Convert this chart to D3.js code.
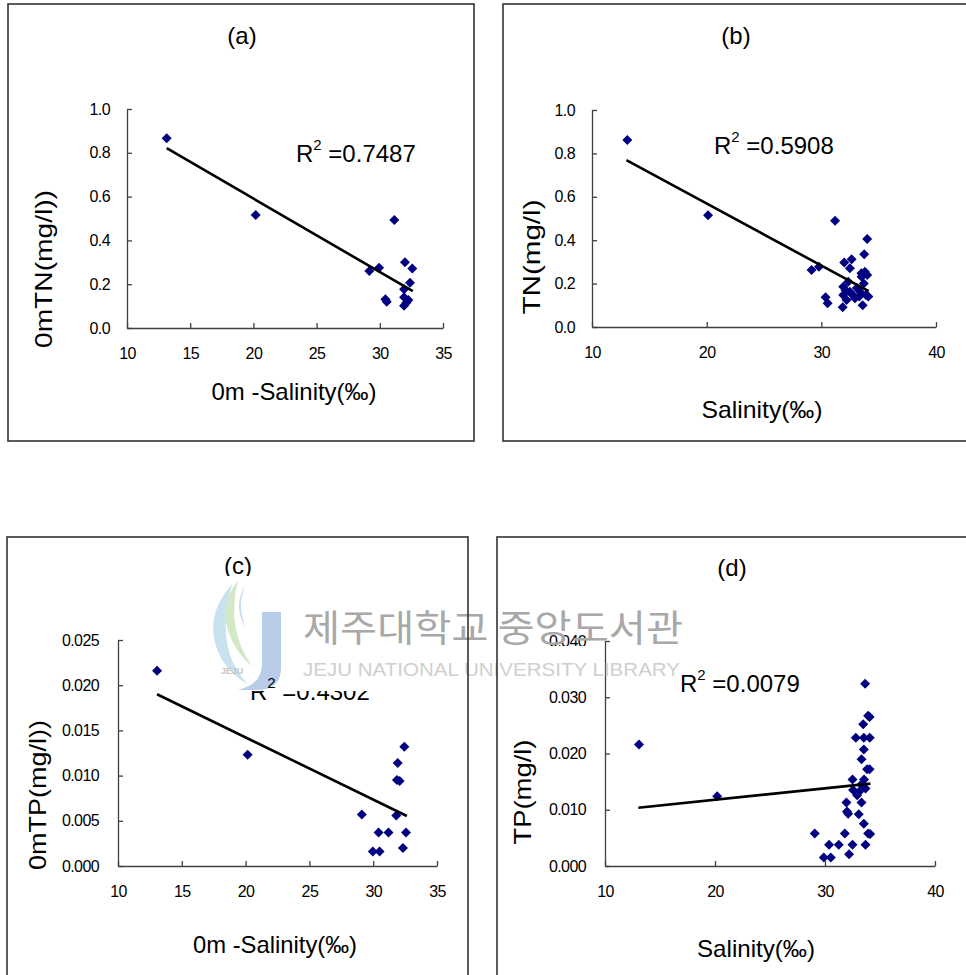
<!DOCTYPE html>
<html lang="en">
<head>
<meta charset="UTF-8">
<title>Salinity vs TN / TP</title>
<script src="https://cdn.jsdelivr.net/npm/d3@7"></script>
<style>
  body { margin: 0; background: #fff; }
  svg { display: block; font-family: "Liberation Sans", Arial, sans-serif; }
</style>
</head>
<body>
<script>
// ---- data ----
// (a) surface salinity vs surface TN
var salA = [13.14, 20.18, 31.15, 29.17, 29.94, 31.99, 32.57, 32.39, 31.92, 30.44, 30.55, 31.92, 32.26, 31.92, 32.1]
var tnA  = [0.867, 0.516, 0.493, 0.26, 0.275, 0.30, 0.272, 0.207, 0.177, 0.131, 0.12, 0.14, 0.128, 0.102, 0.115]
var trendAX = [13.14, 32.61], trendAY = [0.821, 0.168]

// (b) salinity vs TN (all depths)
var salB = [13.08, 20.12, 31.2, 34.0, 33.74, 29.15, 29.79, 32.0, 32.64, 32.49, 33.8, 33.51, 34.0, 33.5, 32.35, 31.91,
            31.91, 32.49, 32.93, 33.37, 33.89, 34.1, 30.37, 30.55, 31.86, 33.6, 32.2, 33.1, 33.7, 32.7, 33.3, 32.1]
var tnB  = [0.862, 0.515, 0.49, 0.405, 0.335, 0.263, 0.278, 0.297, 0.312, 0.271, 0.255, 0.232, 0.24, 0.248, 0.209, 0.186,
            0.148, 0.163, 0.132, 0.163, 0.148, 0.14, 0.137, 0.109, 0.091, 0.1, 0.125, 0.18, 0.2, 0.15, 0.14, 0.17]
var trendBX = [13.0, 34.13], trendBY = [0.769, 0.165]

// (c) surface salinity vs surface TP
var salC = [13.06, 20.16, 29.11, 31.81, 32.44, 31.92, 31.86, 32.07, 30.42, 31.2, 32.57, 29.97, 30.5, 32.33]
var tpC  = [0.0216, 0.0123, 0.0057, 0.0056, 0.0132, 0.0114, 0.0095, 0.0094, 0.0037, 0.0037, 0.0037, 0.0016, 0.0016, 0.0020]
var trendCX = [13.06, 32.64], trendCY = [0.0190, 0.00553]

// (d) salinity vs TP (all depths)
var salD = [13.09, 20.2, 33.65, 33.92, 34.05, 33.47, 32.8, 33.53, 34.07, 33.53, 33.32, 33.83, 34.05, 32.5, 33.55, 32.55,
            33.68, 32.92, 33.32, 31.95, 32.0, 32.1, 33.07, 33.53, 33.92, 34.1, 29.07, 31.8, 30.37, 31.25, 32.5, 33.68,
            29.89, 30.53, 32.19, 33.1, 33.3]
var tpD  = [0.0216, 0.0124, 0.0324, 0.0267, 0.0265, 0.0252, 0.0228, 0.0228, 0.0228, 0.0207, 0.019, 0.0172, 0.0172, 0.0154, 0.0154, 0.0135,
            0.0138, 0.0126, 0.0113, 0.0113, 0.0097, 0.0093, 0.0092, 0.0075, 0.0058, 0.0057, 0.0058, 0.0058, 0.0038, 0.0038, 0.0038, 0.0038,
            0.0015, 0.0015, 0.0021, 0.0132, 0.0145]
var trendDX = [13.03, 34.13], trendDY = [0.01037, 0.01464]

// ticks
var xTicks35 = [10, 15, 20, 25, 30, 35]
var xTicks40 = [10, 20, 30, 40]
var yTicksTN = [0, 0.2, 0.4, 0.6, 0.8, 1.0]
var yTicksTPc = [0, 0.005, 0.010, 0.015, 0.020, 0.025]
var yTicksTPd = [0, 0.010, 0.020, 0.030, 0.040]

var r2Values = ['0.7487', '0.5908', '0.4302', '0.0079']

// ---- layout ----
var width = 966, height = 975
var svg = d3.select('body').append('svg').attr('width', width).attr('height', height)

var panels = [
  {title: '(a)', tx: 242, ty: 35, box: [8, 4, 466, 437], p: {x0: 127, x1: 443, y0: 109, y1: 328},
   xDom: [10, 35], xTicks: xTicks35, yDom: [0, 1], yTicks: yTicksTN, fmt: '.1f', yPad: 17,
   xs: salA, ys: tnA, tx2: trendAX, ty2: trendAY, r2: r2Values[0], r2x: 296, r2y: 162,
   xTitle: '0m -Salinity(‰)', xtX: 294, xtY: 400, xtLen: 165,
   yTitle: '0mTN(mg/l))', ytX: 43, ytY: 269, ytLen: 158},
  {title: '(b)', tx: 736, ty: 35, box: [503, 4, 480, 437], p: {x0: 592, x1: 936, y0: 110, y1: 327},
   xDom: [10, 40], xTicks: xTicks40, yDom: [0, 1], yTicks: yTicksTN, fmt: '.1f', yPad: 17,
   xs: salB, ys: tnB, tx2: trendBX, ty2: trendBY, r2: r2Values[1], r2x: 714, r2y: 154,
   xTitle: 'Salinity(‰)', xtX: 762, xtY: 418, xtLen: 121,
   yTitle: 'TN(mg/l)', ytX: 531, ytY: 257, ytLen: 115},
  {title: '(c)', tx: 238, ty: 565, box: [7, 537, 461, 480], p: {x0: 118, x1: 437, y0: 640, y1: 866},
   xDom: [10, 35], xTicks: xTicks35, yDom: [0, 0.025], yTicks: yTicksTPc, fmt: '.3f', yPad: 19,
   xs: salC, ys: tpC, tx2: trendCX, ty2: trendCY, r2: r2Values[2], r2x: 250, r2y: 700, covered: true,
   xTitle: '0m -Salinity(‰)', xtX: 275, xtY: 953, xtLen: 164,
   yTitle: '0mTP(mg/l))', ytX: 37, ytY: 795, ytLen: 150},
  {title: '(d)', tx: 732, ty: 567, box: [497, 537, 480, 480], p: {x0: 605, x1: 935, y0: 641, y1: 866},
   xDom: [10, 40], xTicks: xTicks40, yDom: [0, 0.04], yTicks: yTicksTPd, fmt: '.3f', yPad: 19,
   xs: salD, ys: tpD, tx2: trendDX, ty2: trendDY, r2: r2Values[3], r2x: 680, r2y: 692,
   xTitle: 'Salinity(‰)', xtX: 756, xtY: 957, xtLen: 118,
   yTitle: 'TP(mg/l)', ytX: 522, ytY: 792, ytLen: 105}
]

var diamond = 'M0,-5L5,0L0,5L-5,0Z'
var coveredLabels = []

function r2Label(sel, c) {
  var t = sel.append('text').attr('x', c.r2x).attr('y', c.r2y).attr('font-size', 24)
  t.append('tspan').text('R')
  t.append('tspan').attr('font-size', 15).attr('dy', -12).text('2')
  t.append('tspan').attr('dy', 12).text('\u00a0=' + c.r2)
  return t
}

panels.forEach(function (c) {
  var g = svg.append('g')
  var x = d3.scaleLinear().domain(c.xDom).range([c.p.x0, c.p.x1])
  var y = d3.scaleLinear().domain(c.yDom).range([c.p.y1, c.p.y0])

  g.append('text').attr('x', c.tx).attr('y', c.ty)
    .attr('text-anchor', 'middle').attr('dominant-baseline', 'central')
    .attr('font-size', 24).text(c.title)

  // axes, ticks pointing inward
  var ax = g.append('g').attr('transform', 'translate(0,' + c.p.y1 + ')')
    .call(d3.axisBottom(x).tickValues(c.xTicks).tickSizeInner(-5).tickSizeOuter(0).tickPadding(20))
  var ay = g.append('g').attr('transform', 'translate(' + c.p.x0 + ',0)')
    .call(d3.axisLeft(y).tickValues(c.yTicks).tickSizeInner(-5).tickSizeOuter(0)
      .tickPadding(c.yPad).tickFormat(d3.format(c.fmt)))
  ;[ax, ay].forEach(function (a) {
    a.selectAll('path, line').attr('stroke', '#404040').attr('stroke-width', 1.3)
    a.selectAll('text').attr('font-size', 16).attr('fill', '#000')
      .attr('font-family', '"Liberation Sans", Arial, sans-serif').attr('letter-spacing', -0.6)
  })

  // points
  g.selectAll('path.pt').data(d3.zip(c.xs, c.ys)).enter().append('path')
    .attr('class', 'pt').attr('d', diamond).attr('fill', '#000080')
    .attr('transform', function (d) { return 'translate(' + x(d[0]) + ',' + y(d[1]) + ')' })

  // trend line
  g.append('path').datum(d3.zip(c.tx2, c.ty2))
    .attr('d', d3.line().x(function (d) { return x(d[0]) }).y(function (d) { return y(d[1]) }))
    .attr('fill', 'none').attr('stroke', '#000').attr('stroke-width', 2.6)

  // R^2 label (the one hidden under the watermark is drawn later, clipped)
  if (c.covered) coveredLabels.push(c)
  else r2Label(g, c)

  // axis titles
  g.append('text').attr('x', c.xtX).attr('y', c.xtY).attr('text-anchor', 'middle')
    .attr('font-size', 24).attr('textLength', c.xtLen).attr('lengthAdjust', 'spacingAndGlyphs')
    .text(c.xTitle)
  g.append('text').attr('transform', 'translate(' + c.ytX + ',' + c.ytY + ') rotate(-90)')
    .attr('text-anchor', 'middle').attr('dominant-baseline', 'central')
    .attr('font-size', 24).attr('textLength', c.ytLen).attr('lengthAdjust', 'spacingAndGlyphs')
    .text(c.yTitle)
})

// ---- library watermark ----
var wm = svg.append('g')
wm.append('rect').attr('x', 195).attr('y', 576).attr('width', 271).attr('height', 115).attr('fill', '#fff')
wm.append('rect').attr('x', 499).attr('y', 646).attr('width', 100).attr('height', 45).attr('fill', '#fff')
wm.append('path').attr('d', 'M262,612 L281,612 L281,668 Q281,690 256,690 L238,690 Q262,684 262,664 Z')
  .attr('fill', '#b9cdea')
wm.append('path').attr('d', 'M232,584 Q200,620 222,660 Q232,676 248,684 Q214,650 232,584 Z')
  .attr('fill', '#c9e2f0')
wm.append('path').attr('d', 'M238,580 Q214,612 236,648 Q244,660 252,666 Q226,630 238,580 Z')
  .attr('fill', '#d4e8c8')
wm.append('path').attr('d', 'M246,584 Q232,606 246,628 Q236,604 246,584 Z').attr('fill', '#c9dcef')
wm.append('text').attr('x', 232).attr('y', 674).attr('text-anchor', 'middle')
  .attr('font-size', 9).attr('font-weight', 'bold').attr('fill', '#c4c4c4').text('JEJU')
wm.append('text').attr('x', 303).attr('y', 642).attr('font-size', 37)
  .attr('font-family', '"Noto Sans CJK KR", sans-serif').attr('fill', '#a8a8a8')
  .attr('textLength', 380).attr('lengthAdjust', 'spacingAndGlyphs').text('제주대학교 중앙도서관')
wm.append('text').attr('x', 303).attr('y', 676).attr('font-size', 18).attr('fill', '#cfcfcf')
  .attr('textLength', 377).attr('lengthAdjust', 'spacingAndGlyphs').text('JEJU NATIONAL UNIVERSITY  LIBRARY')

// R^2 of (c): only its lower half and the superscript show through the watermark
var clip = svg.append('defs').append('clipPath').attr('id', 'clipC')
clip.append('rect').attr('x', 0).attr('y', 691).attr('width', 470).attr('height', 30)
clip.append('rect').attr('x', 266).attr('y', 672).attr('width', 12).attr('height', 20)
coveredLabels.forEach(function (c) {
  r2Label(svg, c).attr('clip-path', 'url(#clipC)')
})

// panel frames on top
panels.forEach(function (c) {
  svg.append('rect').attr('x', c.box[0]).attr('y', c.box[1]).attr('width', c.box[2]).attr('height', c.box[3])
    .attr('fill', 'none').attr('stroke', '#333').attr('stroke-width', 1.6)
})
</script>
</body>
</html>
